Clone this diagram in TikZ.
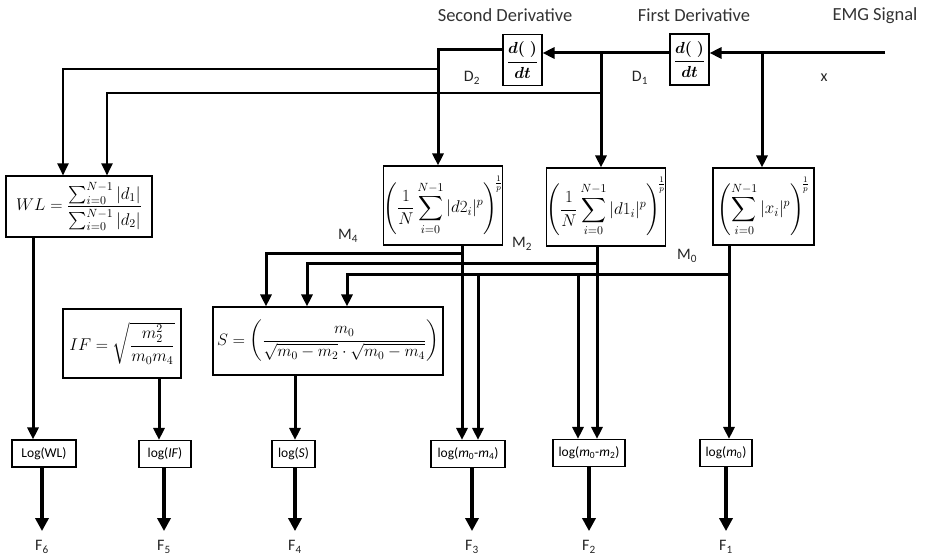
\RequirePackage{fix-cm}
\documentclass[tikz,border=0pt]{standalone}
\usepackage{amsmath}
\usepackage{fontspec}
\setmainfont{Carlito}
\usetikzlibrary{arrows.meta}
\tikzset{
  arr/.style={line width=3pt,-{Triangle[width=11pt,length=12pt]}},
  thinarr/.style={line width=2.2pt,-{Triangle[width=11pt,length=12pt]}},
  outarr/.style={line width=4pt,-{Triangle[width=13pt,length=13pt]}},
  fbox/.style={draw,line width=1.1pt,inner sep=0pt,fill=white},
  dbox/.style={fbox,minimum width=39pt,minimum height=51pt,font=\fsD},
  sbox/.style={fbox,font=\fsU},
  lbl/.style={font=\fsL,text=black!85},
  hdr/.style={font=\fsH,text=black!80},
  logbox/.style={draw,line width=1.1pt,inner sep=0pt,minimum height=27pt,font=\fsG}
}
\newcommand{\fsD}{\fontsize{16}{18}\selectfont}
\newcommand{\fsU}{\fontsize{17}{20}\selectfont}
\newcommand{\fsL}{\fontsize{16}{19}\selectfont}
\newcommand{\fsH}{\fontsize{18.5}{22}\selectfont}
\newcommand{\fsG}{\fontsize{13.5}{16}\selectfont}
\newcommand{\fsW}{\fontsize{17}{20}\selectfont}
\newcommand{\fsI}{\fontsize{17}{20}\selectfont}
\newcommand{\fsS}{\fontsize{16.5}{19}\selectfont}
\newcommand{\dop}{$\boldsymbol{\dfrac{d(\;)}{dt}}$}
\begin{document}
\begin{tikzpicture}[x=1pt,y=-1pt]
\useasboundingbox (0,0) rectangle (926,556);

% headers
\node[hdr] (h2) at (505,15) {Second Derivative};
\node[hdr] (h1) at (694,15) {First Derivative};
\node[hdr] (h0) at (875,16) {EMG Signal};

% derivative boxes
\node[dbox] (d2) at (522.5,60) {\dop};
\node[dbox] (d1) at (689.5,59.5) {\dop};

% labels
\node[lbl] (lD2) at (472,78) {D\textsubscript{2}};
\node[lbl] (lD1) at (640,78) {D\textsubscript{1}};
\node[lbl] (lx) at (824,78) {x};
\node[lbl] (lM4) at (348,236) {M\textsubscript{4}};
\node[lbl] (lM2) at (522,244) {M\textsubscript{2}};
\node[lbl] (lM0) at (687,256) {M\textsubscript{0}};

% sum boxes
\node[sbox,minimum width=108pt,minimum height=79pt] (s2) at (443,205.5)
  {$\displaystyle\left(\frac{1}{N}\sum_{i=0}^{N-1}|d2_i|^{p}\right)^{\!\frac{1}{p}}$};
\node[sbox,minimum width=110pt,minimum height=78pt] (s1) at (606,207)
  {$\displaystyle\left(\frac{1}{N}\sum_{i=0}^{N-1}|d1_i|^{p}\right)^{\!\frac{1}{p}}$};
\node[sbox,minimum width=101pt,minimum height=77pt] (s0) at (763.5,206.5)
  {$\displaystyle\left(\sum_{i=0}^{N-1}|x_i|^{p}\right)^{\!\frac{1}{p}}$};

% feature boxes
\node[fbox,font=\fsW,minimum width=146pt,minimum height=61pt] (wl) at (79,206.5)
  {$WL=\dfrac{\sum_{i=0}^{N-1}|d_1|}{\sum_{i=0}^{N-1}|d_2|}$};
\node[fbox,font=\fsI,minimum width=118pt,minimum height=69pt] (if) at (122,343.5)
  {$IF=\sqrt{\dfrac{m_2^2}{m_0m_4}}$};
\node[fbox,font=\fsS,minimum width=230pt,minimum height=68pt] (sb) at (328,341)
  {$S=\left(\dfrac{m_0}{\sqrt{m_0-m_2}\cdot\sqrt{m_0-m_4}}\right)$};

% log boxes
\node[logbox,minimum width=64pt] (lwl) at (44,453.5) {Log(WL)};
\node[logbox,minimum width=52pt] (lif) at (165,454) {log(\textit{IF})};
\node[logbox,minimum width=43pt] (ls) at (293.5,454) {log(\textit{S})};
\node[logbox,minimum width=74pt] (l4) at (468,454) {log(\textit{m}\textsubscript{0}-\textit{m}\textsubscript{4})};
\node[logbox,minimum width=72pt] (l2) at (589,453) {log(\textit{m}\textsubscript{0}-\textit{m}\textsubscript{2})};
\node[logbox,minimum width=52pt] (l0) at (726,453) {log(\textit{m}\textsubscript{0})};

% outputs
\node[lbl] (f6) at (42,547) {F\textsubscript{6}};
\node[lbl] (f5) at (164,547) {F\textsubscript{5}};
\node[lbl] (f4) at (295,547) {F\textsubscript{4}};
\node[lbl] (f3) at (472,547) {F\textsubscript{3}};
\node[lbl] (f2) at (589,547) {F\textsubscript{2}};
\node[lbl] (f1) at (726,547) {F\textsubscript{1}};

% coordinates
\coordinate (emg) at (885,53);
\coordinate (xtap) at (762,53);
\coordinate (d1tap) at (601,53);
\coordinate (d2tap) at (438,50);
\coordinate (wlA) at (438,69);
\coordinate (wlAin) at (63,69);
\coordinate (wlB) at (601,93);
\coordinate (wlBin) at (107,93);
\coordinate (m4c) at (462,253);
\coordinate (m2c) at (597,263);
\coordinate (m0c) at (729,274);
\coordinate (sA) at (266,253);
\coordinate (sB) at (307,263);
\coordinate (sC) at (347,274);
\coordinate (m0a) at (478,274);
\coordinate (m0b) at (578,274);
\coordinate (wld) at (33,300);
\coordinate (ifd) at (159,400);
\coordinate (sd) at (295,400);

% signal chain
\draw[arr] (emg) -- (d1.east |- emg);
\draw[arr] (d1.west |- emg) -- (d2.east |- emg);
\draw[arr] (xtap) -- (xtap |- s0.north);
\draw[arr] (d1tap) -- (d1tap |- s1.north);
\draw[arr] (d2.west |- d2tap) -- (d2tap) -- (d2tap |- s2.north);
\draw[thinarr] (wlA) -- (wlAin) -- (wlAin |- wl.north);
\draw[thinarr] (wlB) -- (wlBin) -- (wlBin |- wl.north);

% moments
\draw[arr] (s2.south -| m4c) -- (m4c |- l4.north);
\draw[arr] (s1.south -| m2c) -- (m2c |- l2.north);
\draw[arr] (s0.south -| m0c) -- (m0c |- l0.north);
\draw[arr] (m4c) -- (sA) -- (sA |- sb.north);
\draw[arr] (m2c) -- (sB) -- (sB |- sb.north);
\draw[arr] (m0c) -- (sC) -- (sC |- sb.north);
\draw[arr] (m0a) -- (m0a |- l4.north);
\draw[arr] (m0b) -- (m0b |- l2.north);

% features to logs
\draw[arr] (wl.south -| wld) -- (wld |- lwl.north);
\draw[arr] (if.south -| ifd) -- (ifd |- lif.north);
\draw[arr] (sb.south -| sd) -- (sd |- ls.north);

% logs to outputs
\draw[outarr] (lwl.south -| f6) -- ([yshift=6pt]f6.north);
\draw[outarr] (lif.south -| f5) -- ([yshift=6pt]f5.north);
\draw[outarr] (ls.south -| f4) -- ([yshift=6pt]f4.north);
\draw[outarr] (l4.south -| f3) -- ([yshift=6pt]f3.north);
\draw[outarr] (l2.south -| f2) -- ([yshift=6pt]f2.north);
\draw[outarr] (l0.south -| f1) -- ([yshift=6pt]f1.north);
\end{tikzpicture}
\end{document}
